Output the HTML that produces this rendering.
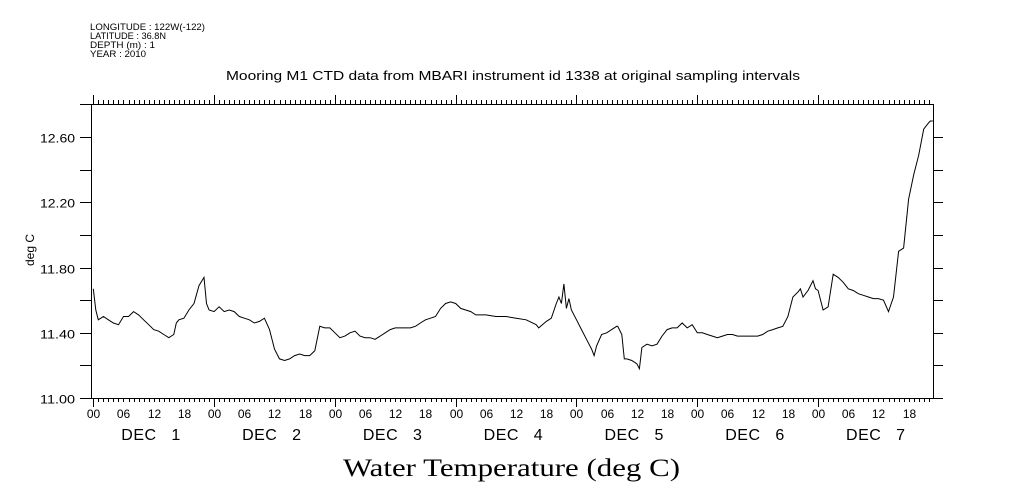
<!DOCTYPE html>
<html><head><meta charset="utf-8"><style>
html,body{margin:0;padding:0;background:#fff;}
svg{display:block;font-family:"Liberation Sans",sans-serif;}
</style></head><body>
<svg id="chart" width="1009" height="504" viewBox="0 0 1009 504" xmlns="http://www.w3.org/2000/svg">
<g font-size="9" fill="#000">
<text x="90" y="30" textLength="115" lengthAdjust="spacingAndGlyphs">LONGITUDE : 122W(-122)</text>
<text x="90" y="39" textLength="76" lengthAdjust="spacingAndGlyphs">LATITUDE : 36.8N</text>
<text x="90" y="48" textLength="65" lengthAdjust="spacingAndGlyphs">DEPTH (m) : 1</text>
<text x="90" y="57" textLength="56" lengthAdjust="spacingAndGlyphs">YEAR : 2010</text>
</g>
<text x="226" y="80" textLength="574" lengthAdjust="spacingAndGlyphs" font-size="13">Mooring M1 CTD data from MBARI instrument id 1338 at original sampling intervals</text>
<text x="0" y="0" transform="translate(34,250) rotate(-90)" text-anchor="middle" font-size="12">deg C</text>
<text x="343" y="476" textLength="337" lengthAdjust="spacingAndGlyphs" font-size="25" font-family="Liberation Serif, serif">Water Temperature (deg C)</text>
<g id="axes"></g>
<path id="line" fill="none" stroke="#000" stroke-width="1"/>
</svg>
<script>
const hours=[0,0.5,1,2,3,4,5,6,7,8,9,10,11,12,13,14,15,16,16.5,17,18,19,20,21,22,22.5,23,24,25,26,27,28,29,30,31,32,33,34,35,36,37,38,39,40,41,42,43,44,45,46,47,48,49,50,51,52,53,54,55,56,57,58,59,60,61,62,63,64,65,66,67,68,69,70,71,72,73,74,75,76,77,78,80,82,84,86,88,88.5,90,91,92,92.5,93,93.5,94,94.5,95,96,97,98,99,99.5,100,101,102,103,104,104.2,105,105.5,106,107,108,108.5,109,110,111,112,113,114,115,116,117,118,119,120,121,122,123,124,125,126,127,128,129,130,131,132,133,134,135,136,137,138,139,140,140.5,141,142,143,143.5,144,145,146,147,148,149,150,151,152,153,154,155,156,157,158,159,160,161,162,163,164,165,166,166.3,166.8];
const temps=[11.67,11.54,11.48,11.50,11.48,11.46,11.45,11.50,11.50,11.53,11.51,11.48,11.45,11.42,11.41,11.39,11.37,11.39,11.46,11.48,11.49,11.54,11.58,11.69,11.74,11.58,11.54,11.53,11.56,11.53,11.54,11.53,11.50,11.49,11.48,11.46,11.47,11.49,11.42,11.30,11.24,11.23,11.24,11.26,11.27,11.26,11.26,11.29,11.44,11.43,11.43,11.40,11.37,11.38,11.40,11.41,11.38,11.37,11.37,11.36,11.38,11.40,11.42,11.43,11.43,11.43,11.43,11.44,11.46,11.48,11.49,11.50,11.55,11.58,11.59,11.58,11.55,11.54,11.53,11.51,11.51,11.51,11.50,11.50,11.49,11.48,11.45,11.43,11.47,11.49,11.58,11.62,11.58,11.70,11.55,11.61,11.54,11.48,11.42,11.36,11.30,11.26,11.32,11.39,11.40,11.42,11.44,11.44,11.39,11.24,11.24,11.23,11.21,11.18,11.31,11.33,11.32,11.33,11.38,11.42,11.43,11.43,11.46,11.43,11.45,11.40,11.40,11.39,11.38,11.37,11.38,11.39,11.39,11.38,11.38,11.38,11.38,11.38,11.39,11.41,11.42,11.43,11.44,11.50,11.62,11.65,11.67,11.62,11.66,11.72,11.67,11.66,11.54,11.56,11.76,11.74,11.71,11.67,11.66,11.64,11.63,11.62,11.61,11.61,11.60,11.53,11.62,11.90,11.92,12.22,12.37,12.49,12.65,12.69,12.70,12.70];
const yTicks=[11.00,11.20,11.40,11.60,11.80,12.00,12.20,12.40,12.60];
const yLabels=["11.00","","11.40","","11.80","","12.20","","12.60"];
const hourLabels=["00","06","12","18"];
const dayLabels=["DEC   1","DEC   2","DEC   3","DEC   4","DEC   5","DEC   6","DEC   7"];

const X0=93.3, PXH=5.033, L=91, R=933, T=104, B=398;
const x=h=>X0+h*PXH;
const y=v=>B-(v-11)*(B-104.7)/1.8;
const NS="http://www.w3.org/2000/svg";
const ax=document.getElementById('axes');
function el(tag,attrs,parent){const e=document.createElementNS(NS,tag);for(const k in attrs)e.setAttribute(k,attrs[k]);(parent||ax).appendChild(e);return e;}
function ln(x1,y1,x2,y2){return el('line',{x1,y1,x2,y2,stroke:'#000','stroke-width':1});}
const frame=el('rect',{x:L+0.5,y:T+0.5,width:R-L,height:B-T,fill:'none',stroke:'#000','stroke-width':1});


ln(80,T+0.5,L,T+0.5);
for(let h=0;h<=167;h++){
  const xx=Math.round(x(h))+0.5; if(xx>R) break;
  const major=h%24===0, six=h%6===0;
  const len=major?9:4;
  ln(xx,B,xx,B+len);
  ln(xx,T,xx,T-len);
  if(six){
    const t=el('text',{x:xx,y:B+20,'text-anchor':'middle','font-size':12});
    t.textContent=hourLabels[(h%24)/6];
    
    
  }
  if(major){
    const d=h/24;
    const t=el('text',{x:x(h)+28,y:B+42,'font-size':16,textLength:59,lengthAdjust:'spacing'});
    t.style.whiteSpace='pre';
    t.textContent=dayLabels[d];
    
    
  }
}
yTicks.forEach((v,i)=>{
  const yy=Math.round(y(v))+0.5;
  ln(80,yy,L,yy);
  ln(R,yy,R+10,yy);
  if(yLabels[i]){
    const t=el('text',{x:40,y:yy+5,'font-size':12,textLength:35,lengthAdjust:'spacingAndGlyphs'});
    t.textContent=yLabels[i];
    
    
  }
});
document.getElementById('line').setAttribute('d',hours.map((h,i)=>(i?'L':'M')+x(h).toFixed(1)+','+y(temps[i]).toFixed(1)).join(' '));
</script>
</body></html>
